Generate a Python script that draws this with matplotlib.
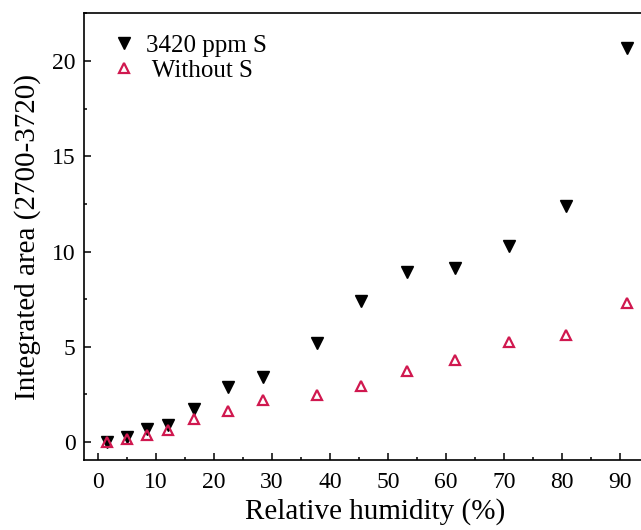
import matplotlib.pyplot as plt
from matplotlib.ticker import MultipleLocator

plt.rcParams['font.family'] = ['Liberation Serif', 'DejaVu Serif']

# relative humidity (%)
rh = [1.5, 5, 8.5, 12, 16.5, 22.5, 28.5, 37.8, 45.4, 53.3, 61.5, 70.8, 80.7, 91.2]
# integrated area (2700-3720)
area_s = [0.0, 0.25, 0.7, 0.9, 1.75, 2.9, 3.4, 5.2, 7.4, 8.95, 9.15, 10.3, 12.4, 20.7]
area_no_s = [0.0, 0.15, 0.35, 0.65, 1.2, 1.65, 2.2, 2.45, 2.95, 3.75, 4.3, 5.25, 5.6, 7.3]

red = '#d0184f'

fig = plt.figure(figsize=(6.41, 5.30), dpi=100)
# right part of the frame runs past the image edge, as in the original
ax = fig.add_axes([84 / 641, 70 / 530, 582.4 / 641, 447 / 530])

ax.plot(rh, area_s, linestyle='none', marker='v', color='black', markersize=8,
        label='3420 ppm S')
ax.plot(rh, area_no_s, linestyle='none', marker='^', markerfacecolor='none',
        markeredgecolor=red, markeredgewidth=1.6, markersize=7, label=' Without S')

ax.set_xlim(-2.41, 98)
ax.set_ylim(-0.945, 22.52)
ax.xaxis.set_major_locator(MultipleLocator(10))
ax.xaxis.set_minor_locator(MultipleLocator(5))
ax.yaxis.set_major_locator(MultipleLocator(5))
ax.yaxis.set_minor_locator(MultipleLocator(2.5))
ax.tick_params(which='both', direction='in', labelsize=17, width=1.1)
ax.tick_params(which='major', length=5)
ax.tick_params(which='minor', length=2.5)
ax.tick_params(axis='x', pad=9)
ax.tick_params(axis='y', pad=6)
ax.spines['right'].set_visible(False)
for s in ['left', 'bottom', 'top']:
    ax.spines[s].set_linewidth(1.2)

ax.set_xlabel('Relative humidity (%)', fontsize=21, labelpad=3)
ax.set_ylabel('Integrated area (2700-3720)', fontsize=21, labelpad=8)

ax.legend(loc='upper left', frameon=False, fontsize=18, handletextpad=0.36,
          handlelength=1.0, borderaxespad=0, borderpad=0,
          bbox_to_anchor=(0.048, 0.953), labelspacing=0.12)

fig.savefig('out.png', dpi=100)
